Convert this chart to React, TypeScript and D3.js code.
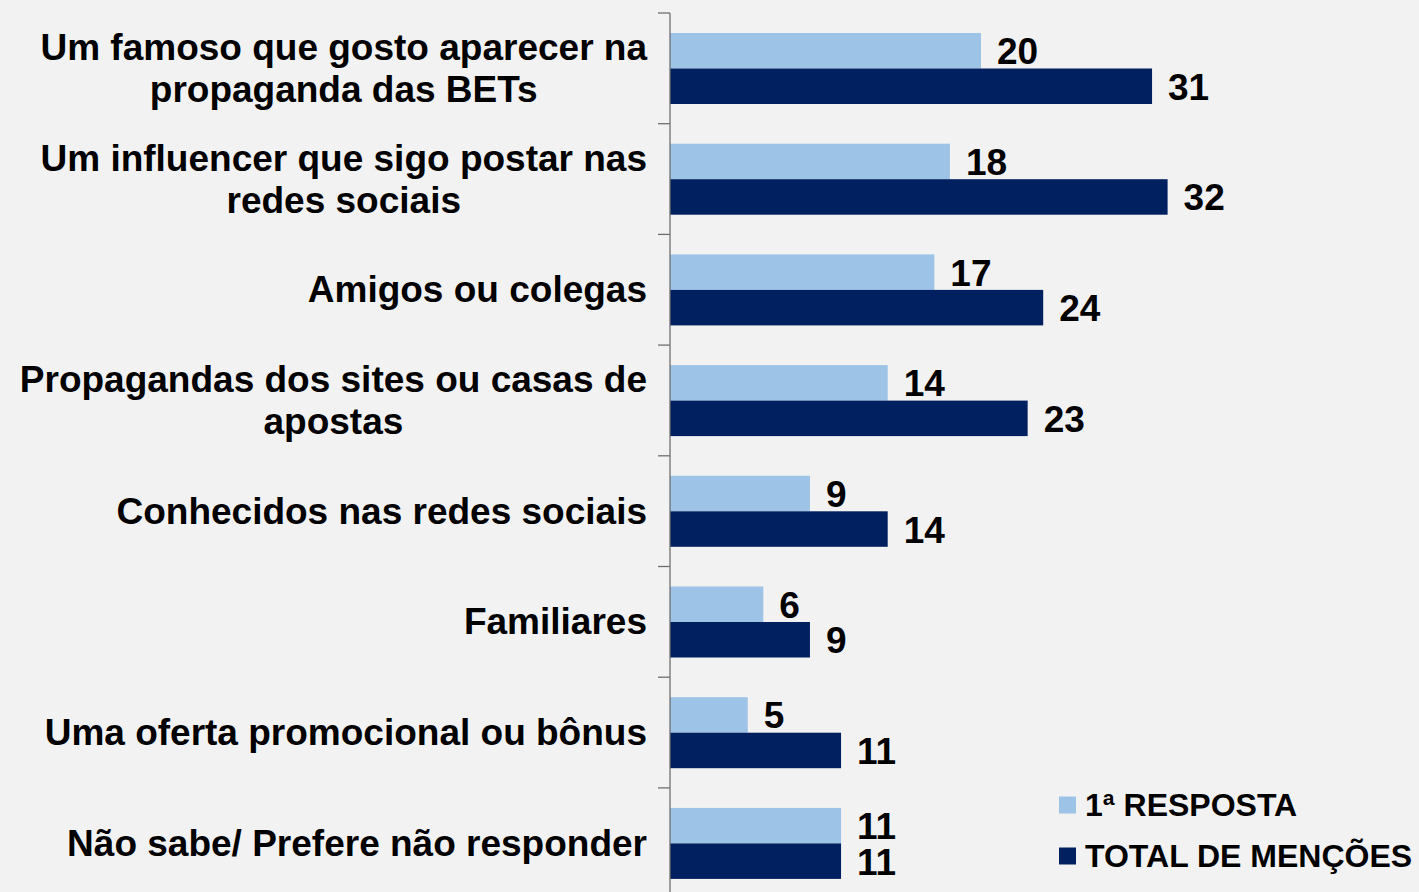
import { useEffect, useRef } from "react";
import * as d3 from "d3";

const categories = [
  ["Um famoso que gosto aparecer na", "propaganda das BETs"],
  ["Um influencer que sigo postar nas", "redes sociais"],
  ["Amigos ou colegas"],
  ["Propagandas dos sites ou casas de", "apostas"],
  ["Conhecidos nas redes sociais"],
  ["Familiares"],
  ["Uma oferta promocional ou bônus"],
  ["Não sabe/ Prefere não responder"],
];
const firstAnswer = [20, 18, 17, 14, 9, 6, 5, 11];
const totalMentions = [31, 32, 24, 23, 14, 9, 11, 11];
const seriesNames = ["1ª RESPOSTA", "TOTAL DE MENÇÕES"];
const colors = ["#9dc3e6", "#002060"];

const W = 1419;
const H = 892;
const FONT = "'Liberation Sans', Arial, sans-serif";

export default function App() {
  const ref = useRef<SVGSVGElement>(null);

  useEffect(() => {
    const svg = d3.select(ref.current);
    svg.selectAll("*").remove();

    const keys = categories.map((_, i) => String(i));
    const y = d3.scaleBand().domain(keys).range([13, 13 + 8 * 110.7]);
    const ySub = d3.scaleBand().domain(["0", "1"]).range([20, 91]);
    const x = d3.scaleLinear().domain([0, 32]).range([670, 670 + 32 * 15.55]);

    svg.append("rect").attr("width", W).attr("height", H).attr("fill", "#f2f2f2");

    const series = [firstAnswer, totalMentions];
    series.forEach((vals, s) => {
      const g = svg.append("g");
      g.selectAll("rect")
        .data(vals)
        .join("rect")
        .attr("x", x(0))
        .attr("y", (_, i) => y(String(i))! + ySub(String(s))!)
        .attr("width", (d) => x(d) - x(0))
        .attr("height", ySub.bandwidth())
        .attr("fill", colors[s]);
      g.selectAll("text")
        .data(vals)
        .join("text")
        .attr("x", (d) => x(d) + 16)
        .attr("y", (_, i) => y(String(i))! + ySub(String(s))! + ySub.bandwidth() / 2 + 1)
        .attr("dominant-baseline", "central")
        .attr("font-family", FONT)
        .attr("font-weight", "bold")
        .attr("font-size", 37)
        .attr("fill", "#000")
        .text((d) => d);
    });

    // axis
    svg.append("line")
      .attr("x1", x(0)).attr("x2", x(0))
      .attr("y1", y("0")!).attr("y2", H)
      .attr("stroke", "#6f6f6f").attr("stroke-width", 1.3);
    const bounds = keys.map((k) => y(k)!).concat([y.range()[1]]);
    svg.selectAll("line.tick")
      .data(bounds)
      .join("line")
      .attr("class", "tick")
      .attr("x1", x(0) - 12).attr("x2", x(0))
      .attr("y1", (d) => d).attr("y2", (d) => d)
      .attr("stroke", "#6f6f6f").attr("stroke-width", 1.3);

    // category labels
    const right = 647;
    categories.forEach((lines, i) => {
      const cy = y(String(i))! + y.bandwidth() / 2;
      const g = svg.append("g");
      const texts = lines.map((line, j) =>
        g.append("text")
          .attr("y", cy + (j - (lines.length - 1) / 2) * 42)
          .attr("dominant-baseline", "central")
          .attr("text-anchor", "middle")
          .attr("font-family", FONT)
          .attr("font-weight", "bold")
          .attr("font-size", 37)
          .attr("fill", "#000")
          .text(line)
      );
      const maxW = d3.max(texts, (t) => (t.node() as SVGTextElement).getComputedTextLength()) ?? 0;
      texts.forEach((t) => t.attr("x", right - maxW / 2));
    });

    // legend
    const legendY = [805, 856];
    seriesNames.forEach((name, s) => {
      svg.append("rect")
        .attr("x", 1059).attr("y", legendY[s] - 8.5)
        .attr("width", 17).attr("height", 17)
        .attr("fill", colors[s]);
      svg.append("text")
        .attr("x", 1085).attr("y", legendY[s])
        .attr("dominant-baseline", "central")
        .attr("font-family", FONT)
        .attr("font-weight", "bold")
        .attr("font-size", 32)
        .attr("fill", "#000")
        .text(name);
    });
  }, []);

  return (
    <svg
      ref={ref}
      width={W}
      height={H}
      style={{ position: "absolute", left: 0, top: 0, display: "block" }}
    />
  );
}
